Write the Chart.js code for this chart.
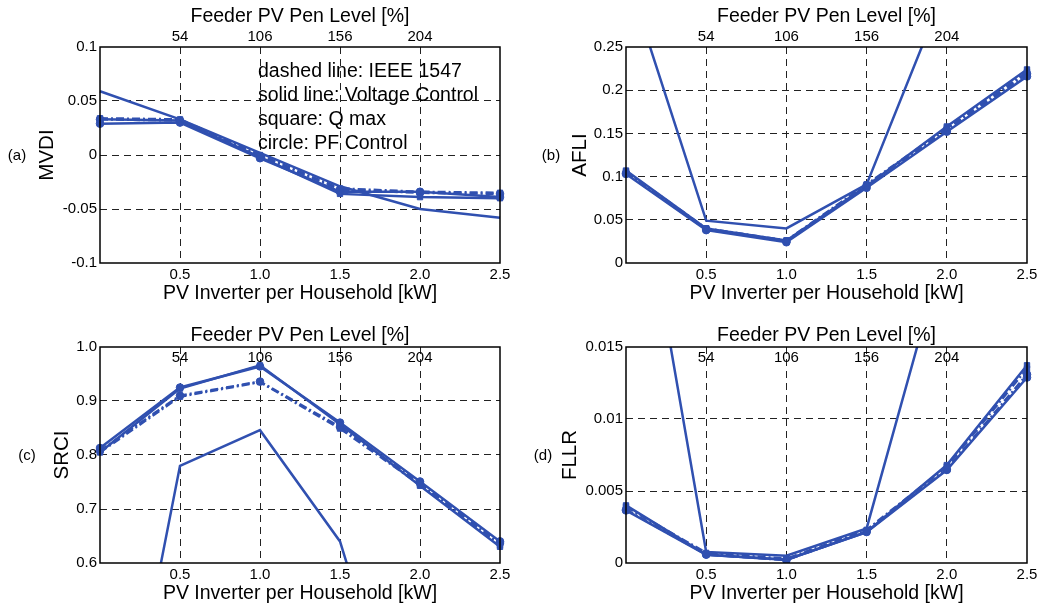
<!DOCTYPE html>
<html lang="en">
<head>
<meta charset="UTF-8">
<title>PV inverter indices</title>
<script src="https://cdn.jsdelivr.net/npm/chart.js"></script>
<style>
  body { margin: 0; background: #fff; }
  .fig { position: relative; width: 1040px; height: 605px; font-family: 'Liberation Sans', Arial, sans-serif; }
  canvas { position: absolute; }
  .tag { position: absolute; font-size: 15px; color: #000; transform: translate(-50%, -50%); }
  .note { position: absolute; left: 258px; top: 58px; font-size: 19.5px; line-height: 24px; color: #000; white-space: nowrap; }
</style>
</head>
<body>
<div class="fig">
  <canvas id="cA" width="520" height="305" style="left:0;top:0"></canvas>
  <canvas id="cB" width="520" height="305" style="left:520px;top:0"></canvas>
  <canvas id="cC" width="520" height="305" style="left:0;top:300px"></canvas>
  <canvas id="cD" width="520" height="305" style="left:520px;top:300px"></canvas>
  <div class="tag" style="left:17px;top:154px">(a)</div>
  <div class="tag" style="left:551px;top:154px">(b)</div>
  <div class="tag" style="left:27px;top:454px">(c)</div>
  <div class="tag" style="left:543px;top:454px">(d)</div>
  <div class="note">dashed line: IEEE 1547<br>solid line: Voltage Control<br>square: Q max<br>circle: PF Control</div>
</div>

<script>
    // x values and tick labels
    const kw = [0, 0.5, 1.0, 1.5, 2.0, 2.5];
    const kwTicks = [0.5, 1.0, 1.5, 2.0, 2.5];
    const kwLabels = ['0.5', '1.0', '1.5', '2.0', '2.5'];
    const penTicks = [0.5, 1.0, 1.5, 2.0];
    const penLabels = ['54', '106', '156', '204'];

    // (a) MVDI
    const mvdiTicks = [-0.1, -0.05, 0, 0.05, 0.1];
    const mvdiLabels = ['-0.1', '-0.05', '0', '0.05', '0.1'];
    const mvdiBase = [0.059, 0.033, 0.002, -0.029, -0.050, -0.058];
    const mvdiQmaxV = [0.033, 0.032, -0.002, -0.036, -0.039, -0.040];
    const mvdiPfV = [0.029, 0.030, -0.003, -0.034, -0.034, -0.039];
    const mvdiQmaxIeee = [0.034, 0.033, 0.000, -0.031, -0.034, -0.035];
    const mvdiPfIeee = [0.033, 0.032, -0.001, -0.032, -0.035, -0.036];

    // (b) AFLI
    const afliTicks = [0, 0.05, 0.1, 0.15, 0.2, 0.25];
    const afliLabels = ['0', '0.05', '0.1', '0.15', '0.2', '0.25'];
    const afliBase = [0.336, 0.049, 0.040, 0.091, 0.322, 0.553];
    const afliQmaxV = [0.107, 0.040, 0.026, 0.089, 0.158, 0.224];
    const afliPfV = [0.103, 0.038, 0.024, 0.087, 0.152, 0.216];
    const afliQmaxIeee = [0.106, 0.040, 0.026, 0.091, 0.156, 0.221];
    const afliPfIeee = [0.104, 0.039, 0.025, 0.090, 0.154, 0.219];

    // (c) SRCI
    const srciTicks = [0.6, 0.7, 0.8, 0.9, 1.0];
    const srciLabels = ['0.6', '0.7', '0.8', '0.9', '1.0'];
    const srciBase = [0.024, 0.780, 0.846, 0.640, 0.160, -0.300];
    const srciQmaxV = [0.805, 0.923, 0.966, 0.857, 0.743, 0.630];
    const srciPfV = [0.813, 0.925, 0.964, 0.860, 0.751, 0.640];
    const srciQmaxIeee = [0.805, 0.908, 0.935, 0.849, 0.745, 0.633];
    const srciPfIeee = [0.808, 0.910, 0.936, 0.852, 0.748, 0.637];

    // (d) FLLR
    const fllrTicks = [0, 0.005, 0.01, 0.015];
    const fllrLabels = ['0', '0.005', '0.01', '0.015'];
    const fllrBase = [0.0329, 0.00076, 0.0005, 0.0024, 0.0224, 0.0425];
    const fllrQmaxV = [0.0040, 0.00058, 0.00023, 0.00215, 0.0068, 0.01373];
    const fllrPfV = [0.00365, 0.00058, 0.00023, 0.00215, 0.00646, 0.01288];
    const fllrQmaxIeee = [0.0039, 0.0007, 0.0003, 0.0023, 0.0067, 0.0135];
    const fllrPfIeee = [0.0037, 0.0006, 0.0002, 0.0022, 0.0065, 0.0131];

    const blue = '#3050b0';
    const fam = "'Liberation Sans', Arial, sans-serif";

    function pts(vals) {
        return vals.map((v, i) => ({ x: kw[i], y: v }));
    }

    function serie(vals, marker, dashed) {
        return {
            data: pts(vals),
            borderColor: blue,
            backgroundColor: blue,
            borderWidth: 2.5,
            borderDash: dashed ? [8, 3, 2, 3] : [],
            pointStyle: marker || 'circle',
            pointRadius: marker ? 3.8 : 0,
            pointBorderWidth: 1,
            tension: 0,
            clip: { left: 6, right: 6, top: 0, bottom: 0 }
        };
    }

    // black frame round the plot area
    const frame = {
        id: 'frame',
        afterDatasetsDraw(chart) {
            const a = chart.chartArea;
            const ctx = chart.ctx;
            ctx.save();
            ctx.strokeStyle = '#000';
            ctx.lineWidth = 1.5;
            ctx.strokeRect(a.left, a.top, a.right - a.left, a.bottom - a.top);
            ctx.restore();
        }
    };

    function gridColor(min, max) {
        return function (c) {
            const v = c.tick ? c.tick.value : null;
            if (v === null || Math.abs(v - min) < 1e-9 || Math.abs(v - max) < 1e-9) return 'rgba(0,0,0,0)';
            return '#222';
        };
    }

    function panel(id, p) {
        const yMin = p.yTicks[0];
        const yMax = p.yTicks[p.yTicks.length - 1];
        const config = {
            type: 'line',
            data: {
                datasets: [
                    serie(p.base, null, false),
                    serie(p.qmaxIeee, 'rect', true),
                    serie(p.pfIeee, 'circle', true),
                    serie(p.qmaxV, 'rect', false),
                    serie(p.pfV, 'circle', false)
                ]
            },
            options: {
                responsive: false,
                animation: false,
                devicePixelRatio: 1,
                layout: { padding: { left: 0, right: p.right, top: 0, bottom: 0 } },
                plugins: { legend: { display: false }, tooltip: { enabled: false } },
                scales: {
                    x: {
                        type: 'linear', position: 'bottom', min: 0, max: 2.5,
                        afterBuildTicks: s => { s.ticks = kwTicks.map(v => ({ value: v })); },
                        afterFit: s => { s.height = 42; s.paddingLeft = 0; s.paddingRight = 0; },
                        ticks: {
                            padding: 3, maxRotation: 0, autoSkip: false, color: '#000',
                            font: { family: fam, size: 15 },
                            callback: (v, i) => kwLabels[i]
                        },
                        grid: { color: gridColor(0, 2.5), lineWidth: 1, drawTicks: false },
                        border: { display: false, dash: [7, 5] },
                        title: {
                            display: true, text: 'PV Inverter per Household [kW]', color: '#000',
                            font: { family: fam, size: 19.5 }, padding: { top: 0, bottom: 0 }
                        }
                    },
                    xt: {
                        type: 'linear', position: 'top', min: 0, max: 2.5,
                        afterBuildTicks: s => { s.ticks = penTicks.map(v => ({ value: v })); },
                        afterFit: s => { s.height = 47; s.paddingLeft = 0; s.paddingRight = 0; },
                        ticks: {
                            padding: p.topPad, mirror: p.topMirror, maxRotation: 0, autoSkip: false, color: '#000',
                            font: { family: fam, size: 15 },
                            callback: (v, i) => penLabels[i]
                        },
                        grid: { display: false, drawTicks: false },
                        border: { display: false },
                        title: {
                            display: true, text: 'Feeder PV Pen Level [%]', color: '#000',
                            font: { family: fam, size: 19.5 }, padding: { top: p.topTitlePad, bottom: 0 }
                        }
                    },
                    y: {
                        type: 'linear', position: 'left', min: yMin, max: yMax,
                        afterBuildTicks: s => { s.ticks = p.yTicks.map(v => ({ value: v })); },
                        afterFit: s => { s.width = p.axisW; s.paddingTop = 0; s.paddingBottom = 0; },
                        ticks: {
                            padding: 3, color: '#000',
                            font: { family: fam, size: 15 },
                            callback: (v, i) => p.yLabels[i]
                        },
                        grid: { color: gridColor(yMin, yMax), lineWidth: 1, drawTicks: false },
                        border: { display: false, dash: [7, 5] },
                        title: {
                            display: true, text: p.title, color: '#000',
                            font: { family: fam, size: 20.5 }, padding: { top: p.yTitlePad, bottom: 0 }
                        }
                    }
                }
            },
            plugins: [frame]
        };
        return new Chart(document.getElementById(id).getContext('2d'), config);
    }

    panel('cA', {
        title: 'MVDI', yTicks: mvdiTicks, yLabels: mvdiLabels, axisW: 100, right: 20, yTitlePad: 35,
        topPad: 1, topMirror: false, topTitlePad: 5,
        base: mvdiBase, qmaxV: mvdiQmaxV, pfV: mvdiPfV, qmaxIeee: mvdiQmaxIeee, pfIeee: mvdiPfIeee
    });
    panel('cB', {
        title: 'AFLI', yTicks: afliTicks, yLabels: afliLabels, axisW: 106, right: 13, yTitlePad: 48,
        topPad: 1, topMirror: false, topTitlePad: 5,
        base: afliBase, qmaxV: afliQmaxV, pfV: afliPfV, qmaxIeee: afliQmaxIeee, pfIeee: afliPfIeee
    });
    panel('cC', {
        title: 'SRCI', yTicks: srciTicks, yLabels: srciLabels, axisW: 100, right: 20, yTitlePad: 50,
        topPad: 2, topMirror: true, topTitlePad: 24,
        base: srciBase, qmaxV: srciQmaxV, pfV: srciPfV, qmaxIeee: srciQmaxIeee, pfIeee: srciPfIeee
    });
    panel('cD', {
        title: 'FLLR', yTicks: fllrTicks, yLabels: fllrLabels, axisW: 106, right: 13, yTitlePad: 38,
        topPad: 2, topMirror: true, topTitlePad: 24,
        base: fllrBase, qmaxV: fllrQmaxV, pfV: fllrPfV, qmaxIeee: fllrQmaxIeee, pfIeee: fllrPfIeee
    });
</script>
</body>
</html>
